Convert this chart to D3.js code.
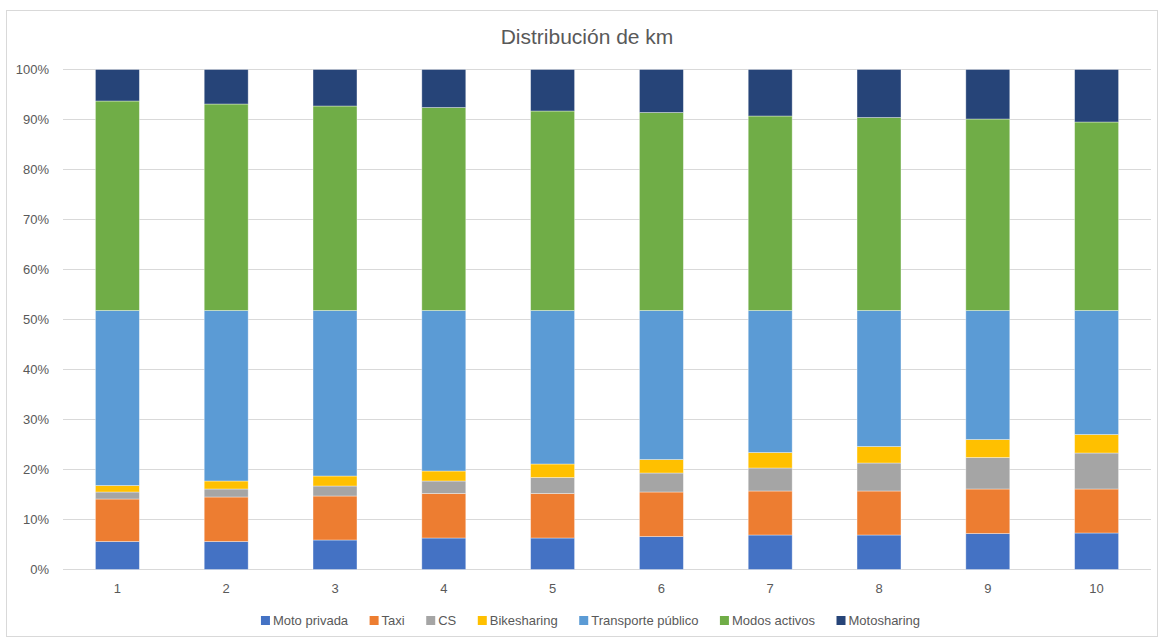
<!DOCTYPE html>
<html>
<head>
<meta charset="utf-8">
<script src="https://cdn.jsdelivr.net/npm/d3@7"></script>
<style>
  html, body { margin: 0; padding: 0; background: #fff; }
  svg { display: block; font-family: "Liberation Sans", Arial, sans-serif; }
</style>
</head>
<body>
<svg id="chart" width="1163" height="642"></svg>
<script>
// Share of kilometres by mode (percent of total), scenarios 1–10
const categories = ["1", "2", "3", "4", "5", "6", "7", "8", "9", "10"];
const seriesNames = ["Moto privada", "Taxi", "CS", "Bikesharing", "Transporte público", "Modos activos", "Motosharing"];
const motoPrivada   = [5.6, 5.6, 5.9, 6.3, 6.3, 6.6, 6.9, 6.9, 7.2, 7.3];
const taxi          = [8.5, 8.9, 8.8, 8.9, 8.9, 8.9, 8.8, 8.8, 8.9, 8.8];
const cs            = [1.4, 1.6, 2.0, 2.5, 3.2, 3.8, 4.6, 5.6, 6.3, 7.2];
const bikesharing   = [1.3, 1.6, 2.0, 2.0, 2.7, 2.7, 3.1, 3.3, 3.6, 3.7];
const transporte    = [35.0, 34.1, 33.1, 32.1, 30.7, 29.8, 28.4, 27.2, 25.8, 24.8];
const modosActivos  = [41.9, 41.3, 40.9, 40.6, 39.9, 39.6, 38.9, 38.6, 38.3, 37.7];
const motosharing   = [6.3, 6.9, 7.3, 7.6, 8.3, 8.6, 9.3, 9.6, 9.9, 10.5];
const yTicks = [0, 10, 20, 30, 40, 50, 60, 70, 80, 90, 100];
const titleText = "Distribución de km";

const seriesValues = [motoPrivada, taxi, cs, bikesharing, transporte, modosActivos, motosharing];
const colors = ["#4472C4", "#ED7D31", "#A5A5A5", "#FFC000", "#5B9BD5", "#70AD47", "#264478"];

// Build rows for the stack layout, normalised to 100%
const rows = categories.map((c, i) => {
  const row = { cat: c };
  const total = d3.sum(seriesValues, s => s[i]);
  seriesNames.forEach((n, k) => { row[n] = seriesValues[k][i] / total * 100; });
  return row;
});
const stacked = d3.stack().keys(seriesNames)(rows);

const svg = d3.select("#chart");
const W = 1163, H = 642;
const margin = { left: 63, right: 12, top: 69.5, bottom: 72.5 };
const plotW = 1088, plotH = 500;

// chart frame
svg.append("rect")
  .attr("x", 6.5).attr("y", 10.5)
  .attr("width", 1151).attr("height", 626)
  .attr("fill", "#fff").attr("stroke", "#d9d9d9").attr("stroke-width", 1);

const x = d3.scaleBand().domain(categories).range([margin.left, margin.left + plotW]).padding(0);
const barW = x.bandwidth() * 0.404;
const y = d3.scaleLinear().domain([0, 100]).range([margin.top + plotH, margin.top]);

// gridlines
svg.append("g")
  .selectAll("line")
  .data(yTicks)
  .join("line")
  .attr("x1", margin.left).attr("x2", margin.left + plotW)
  .attr("y1", d => y(d)).attr("y2", d => y(d))
  .attr("stroke", "#d9d9d9").attr("stroke-width", 1);

// y axis labels
const yAxis = d3.axisLeft(y).tickValues(yTicks).tickFormat(d => d + "%").tickSize(0).tickPadding(14);
const yg = svg.append("g").attr("transform", `translate(${margin.left},0)`).call(yAxis);
yg.select(".domain").remove();
yg.selectAll("text").attr("fill", "#595959").attr("font-size", 13);

// stacked bars
svg.append("g")
  .selectAll("g")
  .data(stacked)
  .join("g")
  .attr("fill", (d, i) => colors[i])
  .selectAll("rect")
  .data(d => d)
  .join("rect")
  .attr("x", d => x(d.data.cat) + (x.bandwidth() - barW) / 2)
  .attr("width", barW)
  .attr("y", d => y(d[1]))
  .attr("height", d => y(d[0]) - y(d[1]))
  .attr("stroke", "rgba(255,255,255,0.45)")
  .attr("stroke-width", 0.8);

// x axis labels
const xAxis = d3.axisBottom(x).tickSize(0).tickPadding(14);
const xg = svg.append("g").attr("transform", `translate(0,${margin.top + plotH})`).call(xAxis);
xg.select(".domain").remove();
xg.selectAll("text").attr("fill", "#595959").attr("font-size", 13);

// title
svg.append("text")
  .attr("x", margin.left + plotW / 2 - 20).attr("y", 44)
  .attr("text-anchor", "middle")
  .attr("fill", "#595959")
  .attr("font-size", 21)
  .text(titleText);

// legend, laid out in a single row under the plot
const legend = svg.append("g").attr("class", "legend");
const items = legend.selectAll("g").data(seriesNames).join("g");
items.append("rect").attr("width", 9).attr("height", 9).attr("y", -9)
  .attr("fill", (d, i) => colors[i]);
items.append("text").attr("x", 12).attr("y", 0)
  .attr("fill", "#595959").attr("font-size", 13)
  .text(d => d);
const gap = 21.5;
let cursor = 0;
const offsets = [];
items.each(function () {
  offsets.push(cursor);
  const tw = d3.select(this).select("text").node().getComputedTextLength();
  cursor += 12 + tw + gap;
});
const totalW = cursor - gap;
const startX = (W - totalW) / 2 + 9;
items.attr("transform", (d, i) => `translate(${startX + offsets[i]},625)`);
</script>
</body>
</html>
